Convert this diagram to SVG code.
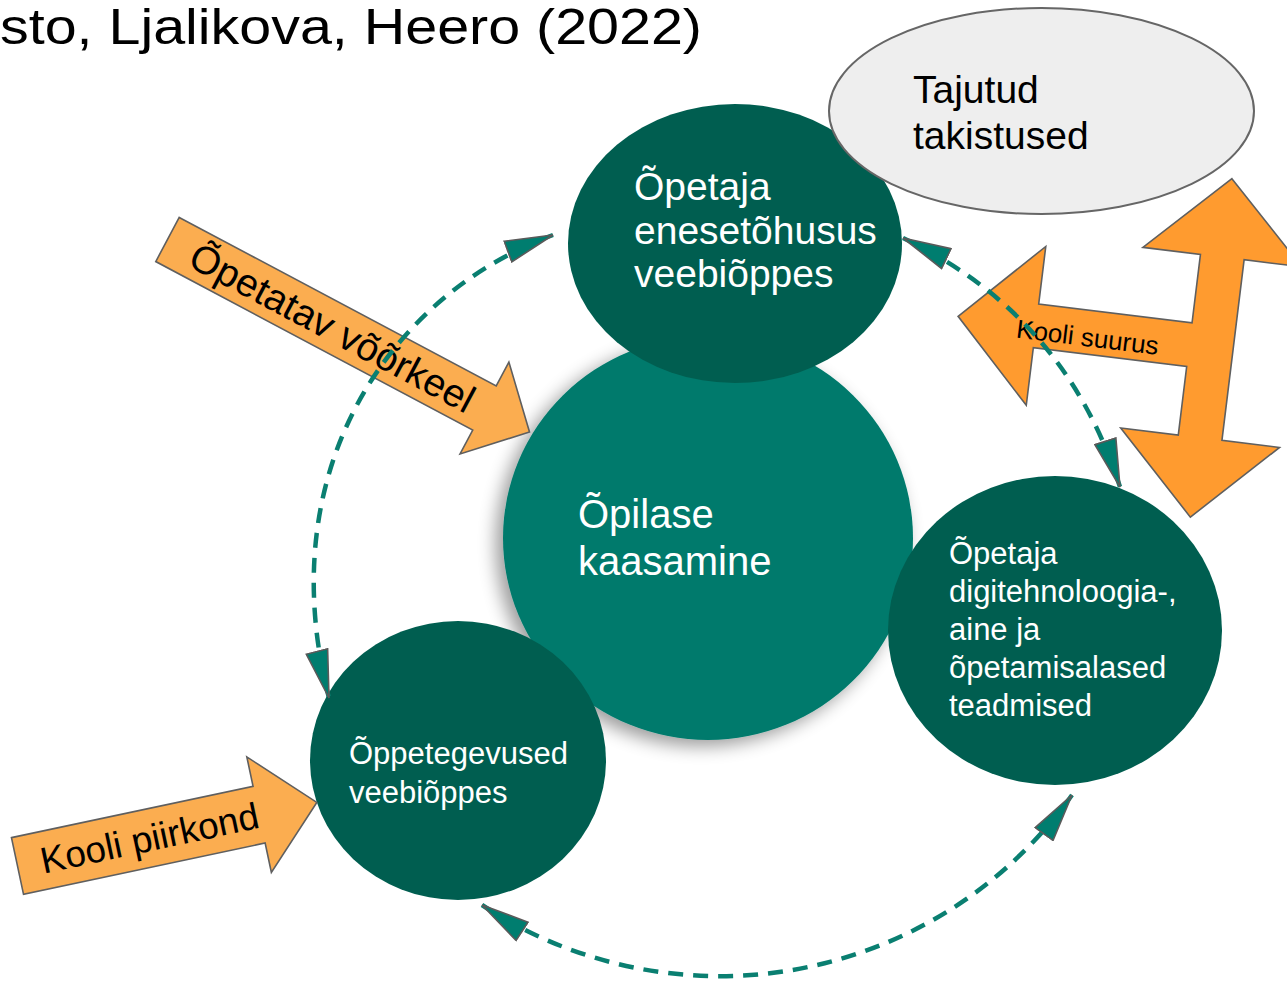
<svg xmlns="http://www.w3.org/2000/svg" width="1287" height="982" viewBox="0 0 1287 982">
  <style>
    .lbl { font-family: "Liberation Sans", Arial, sans-serif; }
    .wt { fill: #ffffff; }
    .bk { fill: #000000; }
    .dark { fill: #005e50; }
    .mid { fill: #007a6c; }
    .orange1 { fill: #fbad50; stroke: #5f5f5f; stroke-width: 1.6; stroke-linejoin: miter; }
    .orange2 { fill: #ff9b2f; stroke: #5f5f5f; stroke-width: 1.6; stroke-linejoin: miter; }
    .conn { fill: none; stroke: #0a7f71; stroke-width: 4.5; stroke-dasharray: 15 10; marker-start: url(#ah); marker-end: url(#ah); }
  </style>
  <defs>
    <marker id="ah" viewBox="0 0 50 24" markerUnits="userSpaceOnUse" markerWidth="50" markerHeight="24" refX="49" refY="12" orient="auto-start-reverse">
      <path d="M1,1 L49,12 L1,23 Z" fill="#007d6f" stroke="#5a5a5a" stroke-width="1.6"/>
    </marker>
    <filter id="sh" x="-20%" y="-20%" width="140%" height="140%">
      <feGaussianBlur in="SourceAlpha" stdDeviation="9"/>
      <feOffset dx="-7" dy="6" result="b"/>
      <feComponentTransfer><feFuncA type="linear" slope="0.4"/></feComponentTransfer>
      <feMerge><feMergeNode/><feMergeNode in="SourceGraphic"/></feMerge>
    </filter>
  </defs>

  <rect width="1287" height="982" fill="#ffffff"/>

  <text class="lbl" x="0" y="44" font-size="50" textLength="702" lengthAdjust="spacingAndGlyphs" fill="#000">sto, Ljalikova, Heero (2022)</text>

  <g id="node-opilase-kaasamine">
    <ellipse cx="708" cy="538" rx="205" ry="202" class="mid" filter="url(#sh)"/>
    <text class="lbl wt" font-size="40" x="578" y="528">Õpilase</text>
    <text class="lbl wt" font-size="40" x="578" y="575">kaasamine</text>
  </g>

  <g id="node-enesetohusus">
    <ellipse cx="735" cy="243.5" rx="167" ry="139.5" class="dark"/>
    <text class="lbl wt" font-size="39" x="634" y="200">Õpetaja</text>
    <text class="lbl wt" font-size="39" x="634" y="244">enesetõhusus</text>
    <text class="lbl wt" font-size="39" x="634" y="287">veebiõppes</text>
  </g>

  <g id="node-teadmised">
    <ellipse cx="1055" cy="630.5" rx="167" ry="154.5" class="dark"/>
    <text class="lbl wt" font-size="31" x="949" y="564">Õpetaja</text>
    <text class="lbl wt" font-size="31" x="949" y="602">digitehnoloogia-,</text>
    <text class="lbl wt" font-size="31" x="949" y="640">aine ja</text>
    <text class="lbl wt" font-size="31" x="949" y="678">õpetamisalased</text>
    <text class="lbl wt" font-size="31" x="949" y="716">teadmised</text>
  </g>

  <g id="node-oppetegevused">
    <ellipse cx="458" cy="760.5" rx="148" ry="139.5" class="dark"/>
    <text class="lbl wt" font-size="31" x="349" y="764">Õppetegevused</text>
    <text class="lbl wt" font-size="31" x="349" y="803">veebiõppes</text>
  </g>

  <g id="node-tajutud-takistused">
    <ellipse cx="1041.5" cy="111" rx="212.5" ry="103" fill="#eeeeee" stroke="#666666" stroke-width="2"/>
    <text class="lbl bk" font-size="39" x="913" y="103">Tajutud</text>
    <text class="lbl bk" font-size="39" x="913" y="149">takistused</text>
  </g>

  <g id="node-opetatav-voorkeel" transform="translate(167.5,239.5) rotate(28)">
    <polygon class="orange1" points="0,-25 359,-25 359,-52 410,0 359,52 359,25 0,25"/>
    <text class="lbl bk" font-size="39" x="187" y="14" text-anchor="middle">Õpetatav võõrkeel</text>
  </g>

  <g id="node-kooli-piirkond" transform="translate(17.5,866) rotate(-12)">
    <polygon class="orange1" points="0,-29 247,-29 247,-59 306,0 247,59 247,29 0,29"/>
    <text class="lbl bk" font-size="37" x="135" y="13" text-anchor="middle">Kooli piirkond</text>
  </g>

  <g id="node-kooli-suurus" transform="translate(1211.2,347.4) rotate(7)">
    <polygon class="orange2" points="0,-170 80,-91 22,-91 22,91 80,91 0,171 -80,91 -22,91 -22,22 -176.5,22 -176.5,80 -255,0 -176.5,-80 -176.5,-22 -22,-22 -22,-91 -80,-91"/>
    <text class="lbl bk" font-size="26" x="-124" y="14" text-anchor="middle">Kooli suurus</text>
  </g>

  <g id="connectors">
    <path class="conn" d="M553,235 C390,295 270,470 329,698"/>
    <path class="conn" d="M903,238 Q1065,315 1120,487"/>
    <path class="conn" d="M482,905 A433,433 0 0 0 1072,795"/>
  </g>
</svg>
